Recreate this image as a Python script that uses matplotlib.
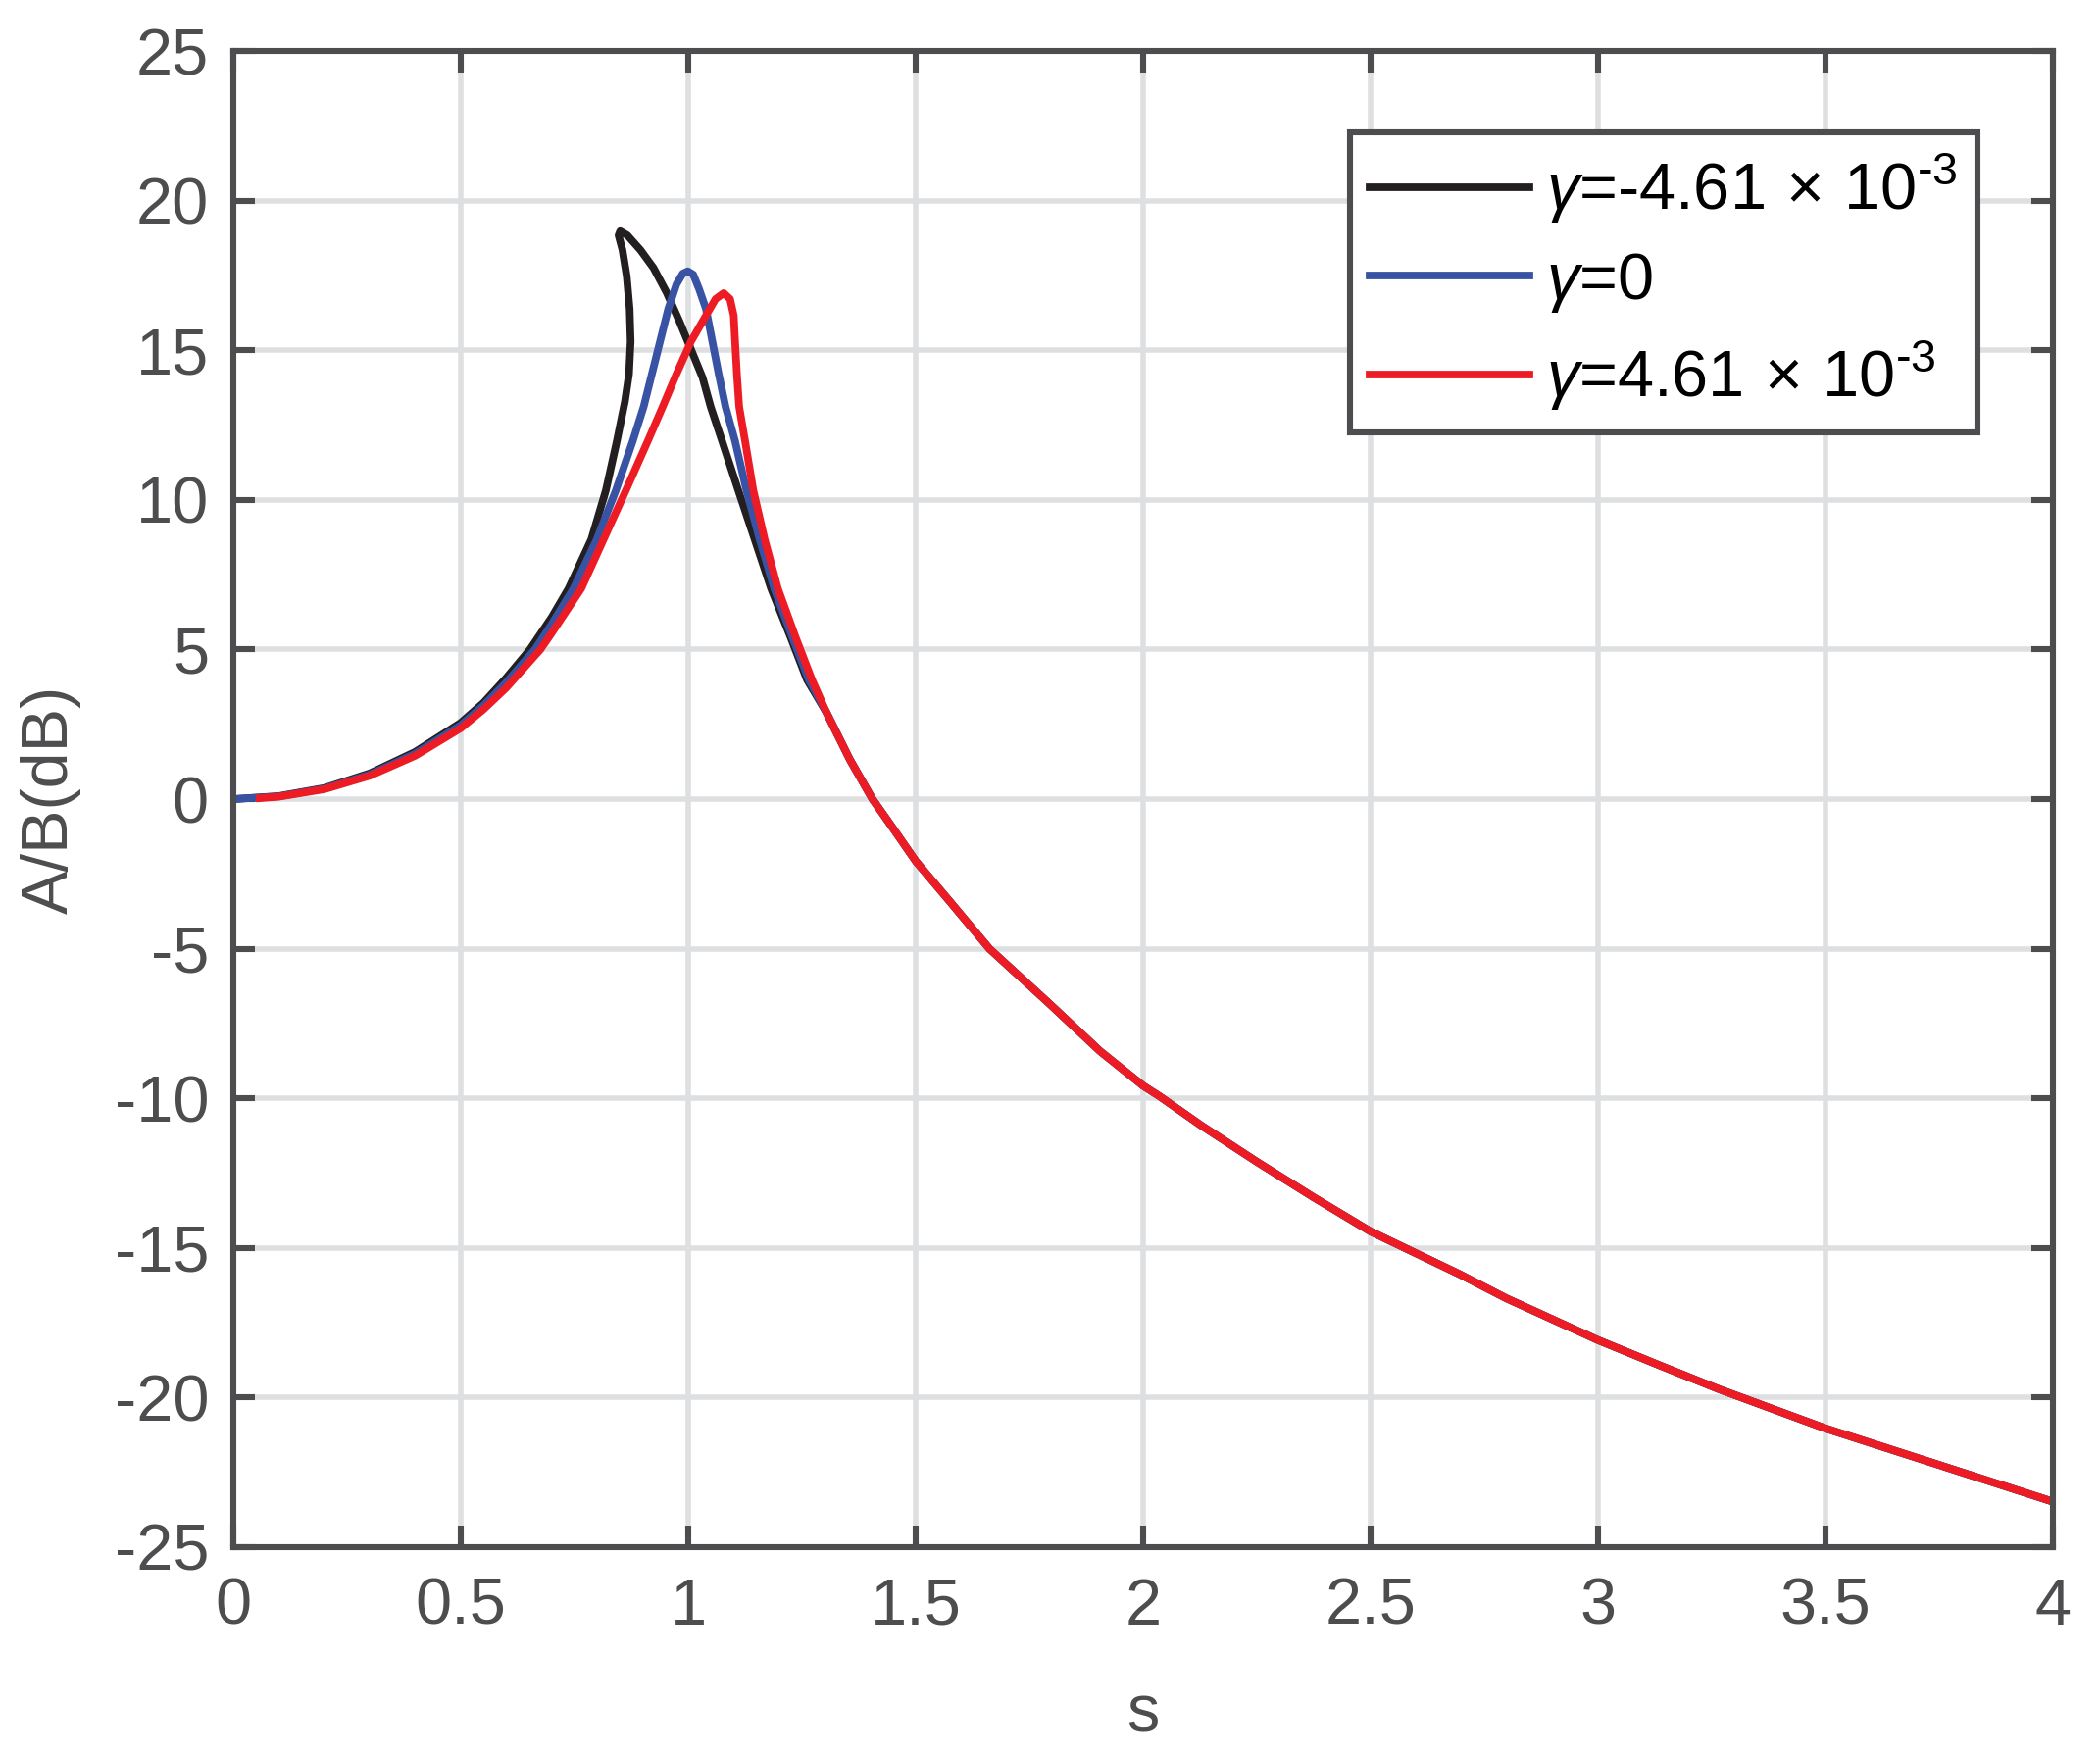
import numpy as np
import matplotlib
matplotlib.use('Agg')
import matplotlib.pyplot as plt

plt.rcParams['font.family'] = ['Liberation Sans', 'DejaVu Sans']
plt.rcParams['mathtext.fontset'] = 'custom'
plt.rcParams['mathtext.rm'] = 'Liberation Sans'
plt.rcParams['mathtext.it'] = 'Liberation Sans:italic'
plt.rcParams['mathtext.sf'] = 'Liberation Sans'
plt.rcParams['axes.unicode_minus'] = False

# readings, s vs A/B in dB
# part near the resonance, one list per curve
s_black = [0.0, 0.1, 0.2, 0.3, 0.4, 0.5, 0.55, 0.6, 0.652, 0.7, 0.737, 0.787, 0.819, 0.843,
           0.861, 0.8698, 0.8734, 0.8712, 0.8648, 0.8554, 0.8468, 0.8504, 0.8662, 0.8949,
           0.9237, 0.9524, 0.9811, 1.0063, 1.0314, 1.0493, 1.0745, 1.110, 1.146, 1.182,
           1.225, 1.261]
db_black = [0.0, 0.10, 0.37, 0.86, 1.58, 2.55, 3.22, 4.05, 5.0, 6.08, 7.04, 8.68, 10.32, 11.96,
            13.3, 14.2, 15.29, 16.38, 17.47, 18.35, 18.84, 18.98, 18.84, 18.35,
            17.75, 16.93, 15.95, 15.02, 14.09, 13.11, 11.96, 10.32, 8.68, 7.04,
            5.41, 3.99]

s_blue = [0.0, 0.1, 0.2, 0.3, 0.4, 0.5, 0.55, 0.6, 0.663, 0.7, 0.748, 0.799, 0.841, 0.878,
          0.902, 0.920, 0.938, 0.956, 0.974, 0.988, 0.999, 1.011, 1.024, 1.039, 1.053,
          1.067, 1.082, 1.103, 1.128, 1.157, 1.189, 1.229, 1.265]
db_blue = [0.0, 0.09, 0.35, 0.82, 1.52, 2.47, 3.13, 3.90, 5.0, 5.85, 7.04, 8.68, 10.32, 11.96,
           13.11, 14.20, 15.29, 16.38, 17.20, 17.56, 17.64, 17.53, 17.04, 16.38, 15.29,
           14.20, 13.11, 11.96, 10.32, 8.68, 7.04, 5.41, 3.99]

s_red = [0.058, 0.1, 0.2, 0.3, 0.4, 0.5, 0.55, 0.6, 0.675, 0.7, 0.765, 0.814, 0.863, 0.911,
         0.9438, 0.974, 1.006, 1.039, 1.060, 1.078, 1.092, 1.100, 1.103, 1.107, 1.112,
         1.125, 1.143, 1.168, 1.197, 1.236, 1.272]
db_red = [0.03, 0.08, 0.33, 0.78, 1.45, 2.37, 3.0, 3.72, 5.0, 5.55, 7.04, 8.68, 10.32, 11.96,
          13.11, 14.20, 15.29, 16.16, 16.71, 16.91, 16.71, 16.16, 15.29, 14.20, 13.11,
          11.96, 10.32, 8.68, 7.04, 5.41, 3.99]

# common tail, the three curves coincide here
s_tail = [1.304, 1.355, 1.405, 1.448, 1.5, 1.575, 1.662, 1.797, 1.905, 2.0, 2.036, 2.127,
          2.251, 2.374, 2.5, 2.611, 2.696, 2.798, 3.0, 3.135, 3.266, 3.5, 3.733, 4.0]
db_tail = [2.89, 1.33, 0.0, -0.93, -2.07, -3.42, -5.0, -6.88, -8.42, -9.58, -9.93, -10.9,
           -12.13, -13.3, -14.45, -15.26, -15.88, -16.68, -18.08, -18.92, -19.72, -21.03,
           -22.17, -23.48]

labels = [r'$\gamma$=-4.61$\,\times\,$10$^{\text{-}3}$', r'$\gamma$=0',
          r'$\gamma$=4.61$\,\times\,$10$^{\text{-}3}$']
colors = ['#231f20', '#3953a4', '#ed1c24']

gray = '#4d4d4f'

fig = plt.figure(figsize=(10.71, 8.96), dpi=200)
ax = fig.add_axes([238/2142, 1 - 1578/1792, (2094-238)/2142, (1578-52)/1792])

curves = [(s_black, db_black), (s_blue, db_blue), (s_red, db_red)]
for (s, db), c, lab in zip(curves, colors, labels):
    ax.plot(s + s_tail, db + db_tail, color=c, lw=2.8, label=lab, zorder=3,
            solid_joinstyle='round')

ax.set_xlim(0, 4)
ax.set_ylim(-25, 25)
ax.set_xticks(np.arange(0, 4.01, 0.5))
ax.set_xticklabels(['0', '0.5', '1', '1.5', '2', '2.5', '3', '3.5', '4'])
ax.set_yticks(np.arange(-25, 26, 5))

ax.grid(True, color='#dedfe1', lw=2.0, zorder=0)
ax.set_axisbelow(True)
for sp in ax.spines.values():
    sp.set_color(gray)
    sp.set_linewidth(2.2)
    sp.set_zorder(4)
ax.tick_params(direction='in', length=8, width=2.2, color=gray, labelcolor=gray,
               labelsize=24, top=True, right=True)
ax.tick_params(axis='x', pad=11)
ax.tick_params(axis='y', pad=9)

ax.set_xlabel('s', fontsize=24, color=gray, labelpad=17)
ax.set_ylabel('A/B(dB)', fontsize=24, color=gray, labelpad=12)

leg = ax.legend(loc='upper right', bbox_to_anchor=(0.9585, 0.9456), borderaxespad=0,
                fontsize=24, handlelength=2.45, handletextpad=0.25, labelspacing=0.38,
                borderpad=0.3, fancybox=False, framealpha=1)
leg.get_frame().set_edgecolor(gray)
leg.get_frame().set_linewidth(2.2)

plt.savefig('out.png', dpi=200)
